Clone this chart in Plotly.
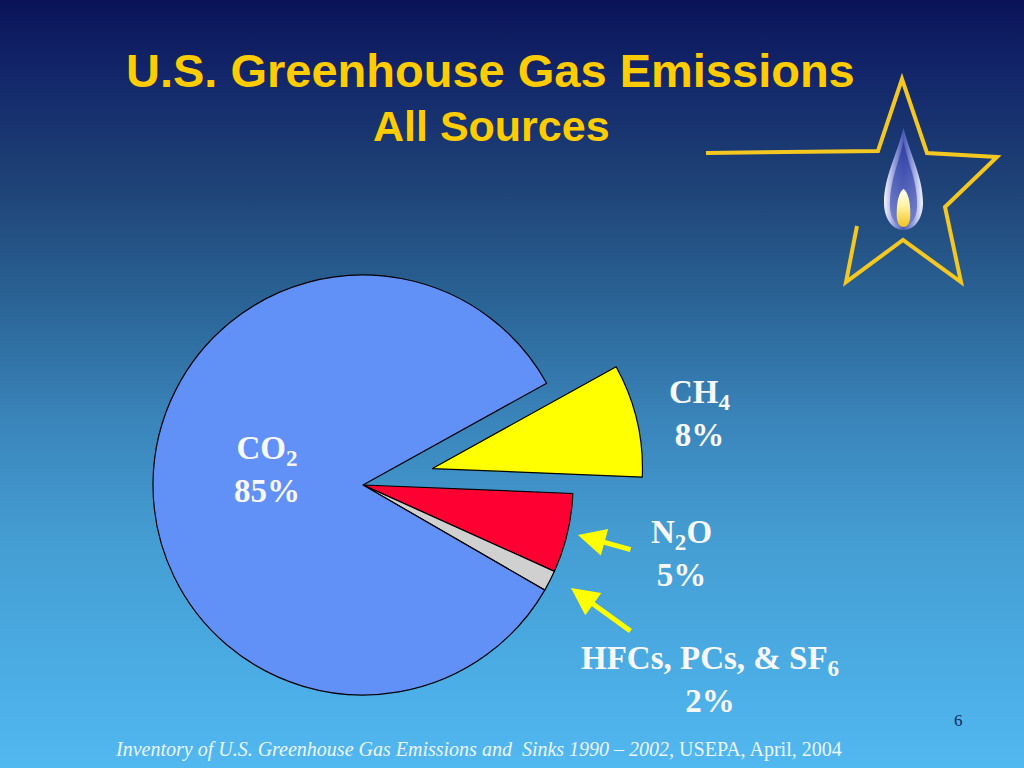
import base64
import plotly.graph_objects as go

W, H = 1024, 768

# ---------------- data ----------------
gases = ["CH4", "N2O", "HFCs, PCs, & SF6", "CO2"]
shares = [8.7, 6.1, 1.6, 83.6]          # slice sizes as drawn
share_labels = ["8%", "5%", "2%", "85%"]  # printed labels
gas_labels = ["CH<sub>4</sub>", "N<sub>2</sub>O", "HFCs, PCs, &amp; SF<sub>6</sub>", "CO<sub>2</sub>"]
slice_colors = ["#FFFF00", "#FF0033", "#D0D0D0", "#6190F7"]
pulls = [0.34, 0, 0, 0]

title = "U.S. Greenhouse Gas Emissions"
subtitle = "All Sources"
source_italic = "Inventory of U.S. Greenhouse Gas Emissions and  Sinks 1990 \u2013 2002,"
source_plain = " USEPA, April, 2004"
page_no = "6"


def px(x):
    return x / W


def py(y):
    return 1 - y / H


# ---------------- background gradient (SVG) ----------------
stops = [(0.0, "#0a1358"), (0.1, "#13276a"), (0.25, "#1f4478"), (0.4, "#2b6597"),
         (0.55, "#3a85bb"), (0.7, "#449dd2"), (0.85, "#4aaae2"), (1.0, "#52b8f0")]
stop_xml = "".join(f"<stop offset='{o}' stop-color='{c}'/>" for o, c in stops)
bg_svg = (f"<svg xmlns='http://www.w3.org/2000/svg' width='{W}' height='{H}' viewBox='0 0 {W} {H}' preserveAspectRatio='none'>"
          f"<defs><linearGradient id='g' x1='0' y1='0' x2='0' y2='1'>{stop_xml}</linearGradient></defs>"
          f"<rect width='{W}' height='{H}' fill='url(#g)'/></svg>")
bg_uri = "data:image/svg+xml;base64," + base64.b64encode(bg_svg.encode()).decode()

flame_svg = (
    "<svg xmlns='http://www.w3.org/2000/svg' width='40' height='104' viewBox='0 0 40 104' preserveAspectRatio='none'>"
    "<defs>"
    "<linearGradient id='o' x1='0' y1='0' x2='1' y2='0'>"
    "<stop offset='0' stop-color='#f4f4ff'/><stop offset='0.25' stop-color='#9aa4dc'/>"
    "<stop offset='0.5' stop-color='#4a5ab8'/><stop offset='0.75' stop-color='#9aa4dc'/>"
    "<stop offset='1' stop-color='#f4f4ff'/></linearGradient>"
    "<linearGradient id='m' x1='0' y1='0' x2='0' y2='1'>"
    "<stop offset='0' stop-color='#2a3aa0'/><stop offset='1' stop-color='#6f7cc8'/></linearGradient>"
    "<linearGradient id='c' x1='0' y1='0' x2='0' y2='1'>"
    "<stop offset='0' stop-color='#ffffff'/><stop offset='0.45' stop-color='#fff3a0'/>"
    "<stop offset='1' stop-color='#f3c21e'/></linearGradient>"
    "</defs>"
    "<path d='M20,0 C27,28 40,50 40,76 C40,93 31,104 20,104 C9,104 0,93 0,76 C0,50 13,28 20,0 Z' fill='url(#o)'/>"
    "<path d='M20,14 C25,36 34,54 34,78 C34,92 28,100 20,100 C12,100 6,92 6,78 C6,54 15,36 20,14 Z' fill='url(#m)' opacity='0.85'/>"
    "<path d='M20,62 C25,66 27,76 27,88 C27,97 24,101 20,101 C16,101 13,97 13,88 C13,76 15,66 20,62 Z' fill='url(#c)'/>"
    "</svg>")
flame_uri = "data:image/svg+xml;base64," + base64.b64encode(flame_svg.encode()).decode()

# ---------------- pie ----------------
fig = go.Figure()
fig.add_trace(go.Pie(
    labels=gases, values=shares, sort=False, direction="clockwise", rotation=61,
    pull=pulls, textinfo="none", hoverinfo="label+percent",
    marker=dict(colors=slice_colors, line=dict(color="#000000", width=1.2)),
    domain=dict(x=[px(81.6), px(644.4)], y=[py(766.4), py(203.6)]),
    showlegend=False,
))

# ---------------- text ----------------
serif = "Times New Roman, Liberation Serif, serif"
sans = "Arial, Liberation Sans, sans-serif"
white = "#f8f8f8"
anns = []


def label(text, cx, cy, size=33, color=white, family=serif):
    anns.append(dict(text=text, x=px(cx), y=py(cy), xref="paper", yref="paper",
                     xanchor="center", yanchor="middle", showarrow=False,
                     font=dict(family=family, size=size, color=color)))


label(f"<b>{title}</b>", 490, 70, size=47, color="#FFCC00", family=sans)
label(f"<b>{subtitle}</b>", 491, 126, size=43, color="#FFCC00", family=sans)

# gas labels: (index, centre x, centre y)
for i, cx, cy in [(3, 267, 469), (0, 700, 413), (1, 681, 553), (2, 710, 679)]:
    label(f"<b>{gas_labels[i]}<br>{share_labels[i]}</b>", cx, cy)

anns.append(dict(text=f"<i>{source_italic}</i>{source_plain}", x=px(478), y=py(749),
                 xref="paper", yref="paper", xanchor="center", yanchor="middle",
                 showarrow=False, font=dict(family=serif, size=20, color="#eef6ff")))
anns.append(dict(text=page_no, x=px(958), y=py(720), xref="paper", yref="paper",
                 xanchor="center", yanchor="middle", showarrow=False,
                 font=dict(family=serif, size=17, color="#14285e")))

# yellow arrows
for (hx, hy), (tx, ty) in [((578, 535), (632, 550)), ((571, 588), (632, 632))]:
    anns.append(dict(text="", x=px(hx), y=py(hy), xref="paper", yref="paper",
                     ax=tx - hx, ay=ty - hy, showarrow=True, arrowhead=2,
                     arrowsize=1.1, arrowwidth=5, arrowcolor="#FFFF00", standoff=0))

# ---------------- star outline ----------------
star_pts = [(857, 226), (846, 282), (903, 240), (961, 282), (945, 207), (997, 157),
            (927, 153), (902, 79), (878, 151), (706, 153)]
path = "M " + " L ".join(f"{px(x):.5f},{py(y):.5f}" for x, y in star_pts)
shapes = [dict(type="path", xref="paper", yref="paper", path=path,
               line=dict(color="#F4C820", width=4), layer="above")]

fig.update_layout(
    width=W, height=H, margin=dict(l=0, r=0, t=0, b=0),
    paper_bgcolor="#2b6597", plot_bgcolor="rgba(0,0,0,0)",
    annotations=anns, shapes=shapes,
    images=[
        dict(source=bg_uri, xref="paper", yref="paper", x=0, y=1, sizex=1, sizey=1,
             xanchor="left", yanchor="top", sizing="stretch", layer="below"),
        dict(source=flame_uri, xref="paper", yref="paper", x=px(884), y=py(128),
             sizex=px(39), sizey=102 / H, xanchor="left", yanchor="top",
             sizing="stretch", layer="above"),
    ],
)

fig.write_html("out.html", config={"displayModeBar": False},
               post_script="document.body.style.margin='0';document.body.style.overflow='hidden';")
